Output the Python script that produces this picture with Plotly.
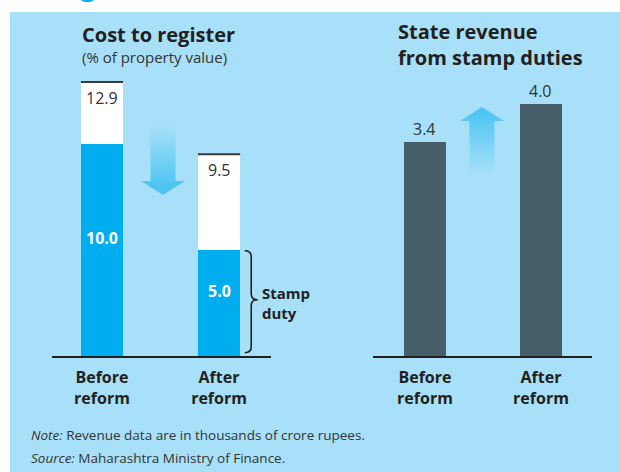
import plotly.graph_objects as go

W, H = 620, 472

# ---- data ----
categories = ["Before reform", "After reform"]
tick_text = ["Before<br>reform", "After<br>reform"]
cost_total = [12.9, 9.5]          # % of property value
cost_stamp = [10.0, 5.0]          # stamp duty part
revenue = [3.4, 4.0]              # thousands of crore rupees
cost_total_labels = ["12.9", "9.5"]
cost_stamp_labels = ["10.0", "5.0"]
revenue_labels = ["3.4", "4.0"]

cost_other = [round(t - s, 1) for t, s in zip(cost_total, cost_stamp)]

# ---- style ----
FONT = "Open Sans"
DARK = "#231f20"
TEXT = "#333333"
PANEL = "#a7e0f8"
BLUE = "#00aeef"
SLATE = "#465e6a"
ARROW = "77,197,243"
BARW = 0.36


def px(x):
    return x / W


def py(y):
    return 1 - y / H


xpos = list(range(len(categories)))

fig = go.Figure()
fig.add_trace(go.Bar(x=xpos, y=cost_stamp, width=BARW, marker=dict(color=BLUE, line_width=0),
                     xaxis="x", yaxis="y", hoverinfo="skip", name="Stamp duty"))
fig.add_trace(go.Bar(x=xpos, y=cost_other, width=BARW, marker=dict(color="white", line_width=0),
                     xaxis="x", yaxis="y", hoverinfo="skip", name="Other"))
fig.add_trace(go.Bar(x=xpos, y=revenue, width=BARW, marker=dict(color=SLATE, line_width=0),
                     xaxis="x2", yaxis="y2", hoverinfo="skip", name="Revenue"))


def arrow(cx, tail, tip, shaft=12.5, head=22, head_len=14):
    d = 1 if tip > tail else -1
    base = tip - d * head_len
    xs = [cx - shaft, cx - shaft, cx - head, cx, cx + head, cx + shaft, cx + shaft, cx - shaft]
    ys = [tail, base, base, tip, base, base, tail, tail]
    return xs, ys


# decorative arrows (pixel overlay axes)
xs, ys = arrow(163, 126, 195)
fig.add_trace(go.Scatter(x=xs, y=ys, mode="lines", line=dict(width=0), fill="toself",
                         fillgradient=dict(type="vertical", start=126, stop=186,
                                           colorscale=[[0, f"rgba({ARROW},0)"], [1, f"rgba({ARROW},1)"]]),
                         xaxis="x3", yaxis="y3", hoverinfo="skip", showlegend=False))
xs, ys = arrow(482, 174, 107)
fig.add_trace(go.Scatter(x=xs, y=ys, mode="lines", line=dict(width=0), fill="toself",
                         fillgradient=dict(type="vertical", start=112, stop=174,
                                           colorscale=[[0, f"rgba({ARROW},1)"], [1, f"rgba({ARROW},0)"]]),
                         xaxis="x3", yaxis="y3", hoverinfo="skip", showlegend=False))

shapes = [
    dict(type="rect", xref="paper", yref="paper", x0=px(10), x1=1, y0=0, y1=py(12),
         fillcolor=PANEL, line_width=0, layer="below"),
]
for i, t in enumerate(cost_total):
    shapes.append(dict(type="line", xref="x", yref="y", x0=i - BARW / 2, x1=i + BARW / 2, y0=t, y1=t,
                       line=dict(color="#3a3a3a", width=2)))

# curly brace beside the stamp-duty segment of the "after" bar
x0b, x1b, xtb = 1.22, 1.275, 1.33
yt, yb = cost_stamp[1] - 0.05, 0.15
ym = (yt + yb) / 2 + 0.1
r = 0.28
brace = (f"M {x0b},{yt} Q {x1b},{yt} {x1b},{yt - r} L {x1b},{ym + r} "
         f"Q {x1b},{ym} {xtb},{ym} Q {x1b},{ym} {x1b},{ym - r} L {x1b},{yb + r} "
         f"Q {x1b},{yb} {x0b},{yb}")
shapes.append(dict(type="path", xref="x", yref="y", path=brace, line=dict(color=DARK, width=1.6)))

ann = []
# cut-off headline fragment at top
ann.append(dict(text="<b>g</b>", x=px(78), y=py(5), xref="paper", yref="paper", xanchor="left",
                yanchor="bottom", showarrow=False, font=dict(family=FONT, size=28, color=BLUE)))
ann.append(dict(text="<b>Cost to register</b>", x=px(80), y=py(34), xref="paper", yref="paper",
                xanchor="left", yanchor="middle", showarrow=False, font=dict(family=FONT, size=20, color=DARK)))
ann.append(dict(text="(% of property value)", x=px(80), y=py(57), xref="paper", yref="paper",
                xanchor="left", yanchor="middle", showarrow=False, font=dict(family=FONT, size=15, color=TEXT)))
ann.append(dict(text="<b>State revenue<br>from stamp duties</b>", x=px(396), y=py(45), xref="paper", yref="paper",
                xanchor="left", yanchor="middle", align="left", showarrow=False,
                font=dict(family=FONT, size=20, color=DARK)))
ann.append(dict(text="<b>Stamp<br>duty</b>", x=px(260), y=py(303), xref="paper", yref="paper",
                xanchor="left", yanchor="middle", align="left", showarrow=False,
                font=dict(family=FONT, size=15, color=DARK)))
ann.append(dict(text="<i>Note:</i> Revenue data are in thousands of crore rupees.", x=px(29), y=py(435),
                xref="paper", yref="paper", xanchor="left", yanchor="middle", showarrow=False,
                font=dict(family=FONT, size=13.5, color=TEXT)))
ann.append(dict(text="<i>Source:</i> Maharashtra Ministry of Finance.", x=px(29), y=py(458),
                xref="paper", yref="paper", xanchor="left", yanchor="middle", showarrow=False,
                font=dict(family=FONT, size=13.5, color=TEXT)))

for i in xpos:
    ann.append(dict(text=cost_total_labels[i], x=i, y=cost_total[i], xref="x", yref="y", yanchor="middle",
                    yshift=-16, showarrow=False, font=dict(family=FONT, size=16, color=TEXT)))
    ann.append(dict(text=f"<b>{cost_stamp_labels[i]}</b>", x=i, y=cost_stamp[i] / 2, xref="x", yref="y",
                    yanchor="middle", yshift=12, showarrow=False, font=dict(family=FONT, size=16, color="white")))
    ann.append(dict(text=revenue_labels[i], x=i, y=revenue[i], xref="x2", yref="y2", yanchor="middle",
                    yshift=13, showarrow=False, font=dict(family=FONT, size=16, color=TEXT)))

axis_common = dict(showgrid=False, zeroline=False, showline=True, linecolor=DARK, linewidth=2,
                   ticks="", tickvals=xpos, ticktext=[f"<b>{t}</b>" for t in tick_text],
                   ticklabelstandoff=6,
                   tickfont=dict(family=FONT, size=16, color=DARK), fixedrange=True)

fig.update_layout(
    width=W, height=H,
    margin=dict(l=0, r=0, t=0, b=0),
    paper_bgcolor="white", plot_bgcolor="rgba(0,0,0,0)",
    barmode="stack", bargap=0, showlegend=False,
    font=dict(family=FONT, color=DARK),
    xaxis=dict(domain=[px(52), px(271)], range=[-0.427, 1.444], anchor="y", **axis_common),
    yaxis=dict(domain=[py(356), py(70)], range=[0, 13.46], visible=False, anchor="x", fixedrange=True),
    xaxis2=dict(domain=[px(373), px(592)], range=[-0.448, 1.440], anchor="y2", **axis_common),
    yaxis2=dict(domain=[py(356), py(70)], range=[0, 4.54], visible=False, anchor="x2", fixedrange=True),
    xaxis3=dict(domain=[0, 1], range=[0, W], visible=False, anchor="y3", fixedrange=True),
    yaxis3=dict(domain=[0, 1], range=[H, 0], visible=False, anchor="x3", fixedrange=True),
    shapes=shapes,
    annotations=ann,
)

fig.write_html("out.html", config=dict(displayModeBar=False),
               post_script="document.body.style.margin='0px';document.body.style.overflow='hidden';")
